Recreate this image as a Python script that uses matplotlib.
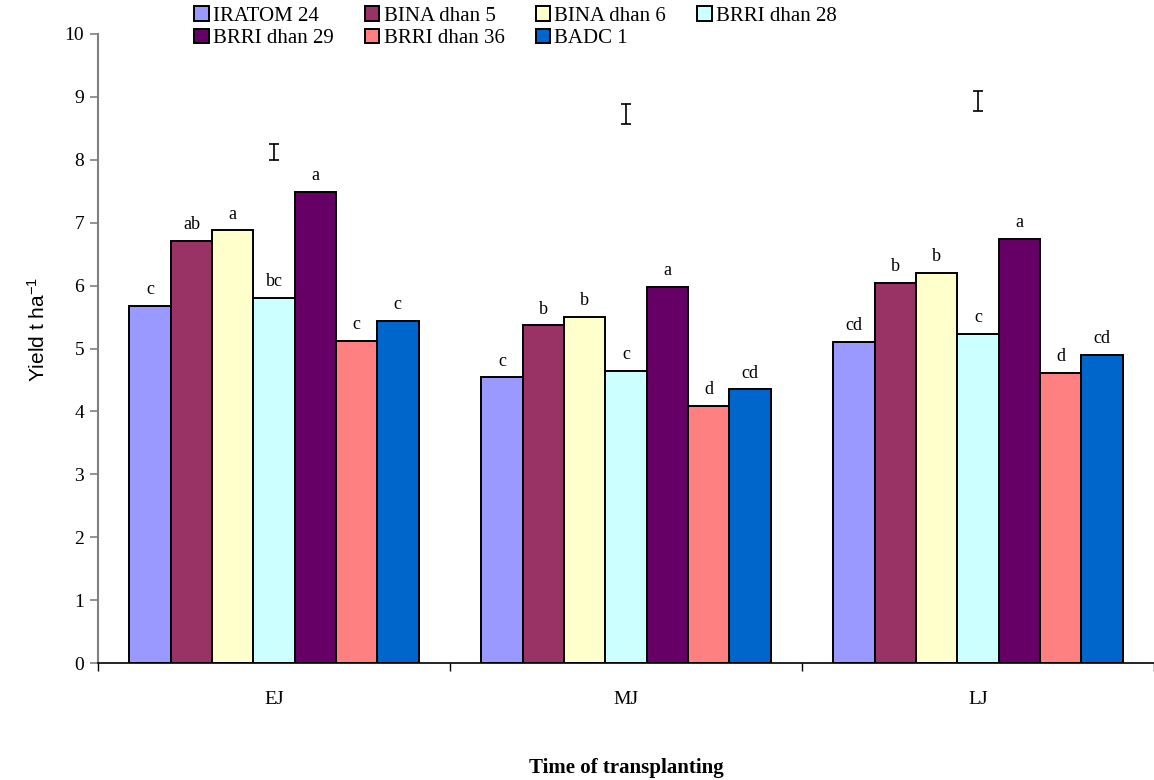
import numpy as np
import matplotlib.pyplot as plt

# Grain yield of rice varieties at three transplanting times
times = ["EJ", "MJ", "LJ"]
varieties = ["IRATOM 24", "BINA dhan 5", "BINA dhan 6", "BRRI dhan 28",
             "BRRI dhan 29", "BRRI dhan 36", "BADC 1"]
colors = ["#9999FF", "#993366", "#FFFFCC", "#CCFFFF",
          "#660066", "#FF8080", "#0066CC"]

yield_ej = [5.68, 6.71, 6.88, 5.81, 7.49, 5.12, 5.44]
yield_mj = [4.54, 5.37, 5.50, 4.65, 5.98, 4.09, 4.35]
yield_lj = [5.11, 6.04, 6.20, 5.23, 6.74, 4.61, 4.90]

letters_ej = ["c", "ab", "a", "bc", "a", "c", "c"]
letters_mj = ["c", "b", "b", "c", "a", "d", "cd"]
letters_lj = ["cd", "b", "b", "c", "a", "d", "cd"]

# LSD bars drawn above each group
lsd_center = [8.12, 8.73, 8.94]
lsd_half = [0.125, 0.155, 0.16]

yields = np.array([yield_ej, yield_mj, yield_lj])
letters = [letters_ej, letters_mj, letters_lj]

plt.rcParams["font.family"] = ["Liberation Serif", "DejaVu Serif"]
plt.rcParams["mathtext.fontset"] = "custom"
plt.rcParams["mathtext.rm"] = "Liberation Sans"
plt.rcParams["mathtext.it"] = "Liberation Sans"

fig = plt.figure(figsize=(11.54, 7.8), dpi=100)
ax = fig.add_axes([98 / 1154, 117 / 780, 1 - 98 / 1154, 629 / 780])

group_x = np.arange(len(times)) + 0.5
bw = 0.1173
n = len(varieties)

handles = []
for i in range(n):
    xs = group_x + (i - (n - 1) / 2) * bw
    b = ax.bar(xs, yields[:, i], width=bw, color=colors[i],
               edgecolor="black", linewidth=1.4, label=varieties[i], zorder=2)
    handles.append(b)
    for g in range(len(times)):
        ax.annotate(letters[g][i], (xs[g], yields[g, i]), xytext=(0, 5.5),
                    textcoords="offset points", ha="center", va="bottom",
                    fontsize=13)

ax.errorbar(group_x, lsd_center, yerr=lsd_half, fmt="none", ecolor="black",
            elinewidth=1.2, capsize=3.5, capthick=1.2)

ax.set_xlim(0, 3)
ax.set_ylim(0, 10)
ax.set_yticks(range(0, 11))
ax.tick_params(axis="y", labelsize=14, length=6, color="#808080", width=1.2,
               pad=4)
ax.set_xticks([0, 1, 2, 3])
ax.set_xticklabels([])
ax.set_xticks(group_x, minor=True)
ax.set_xticklabels(times, minor=True, fontsize=14)
ax.tick_params(axis="x", which="major", length=6, width=1, color="black")
ax.tick_params(axis="x", which="minor", length=0, pad=20)

ax.spines["top"].set_visible(False)
ax.spines["right"].set_visible(False)
ax.spines["left"].set_color("#808080")
ax.spines["left"].set_linewidth(1.5)
ax.spines["bottom"].set_linewidth(1.2)

ax.set_ylabel("Yield t ha$^{-1}$", family="Liberation Sans", fontsize=15)
ax.yaxis.set_label_coords(-0.047, 0.53)
ax.set_xlabel("Time of transplanting", fontsize=15, fontweight="bold",
              labelpad=36)

# row-major legend: reorder for matplotlib's column filling
order = [0, 4, 1, 5, 2, 6, 3]
fig.legend([handles[k] for k in order], [varieties[k] for k in order],
           ncol=4, loc="upper left", bbox_to_anchor=(194 / 1154, 1 - 6 / 780),
           frameon=False, fontsize=15, handlelength=0.7, handleheight=0.7,
           handletextpad=0.2, columnspacing=1.5, labelspacing=0.15,
           borderaxespad=0.0, borderpad=0.0)

fig.savefig("out.png", dpi=100)
